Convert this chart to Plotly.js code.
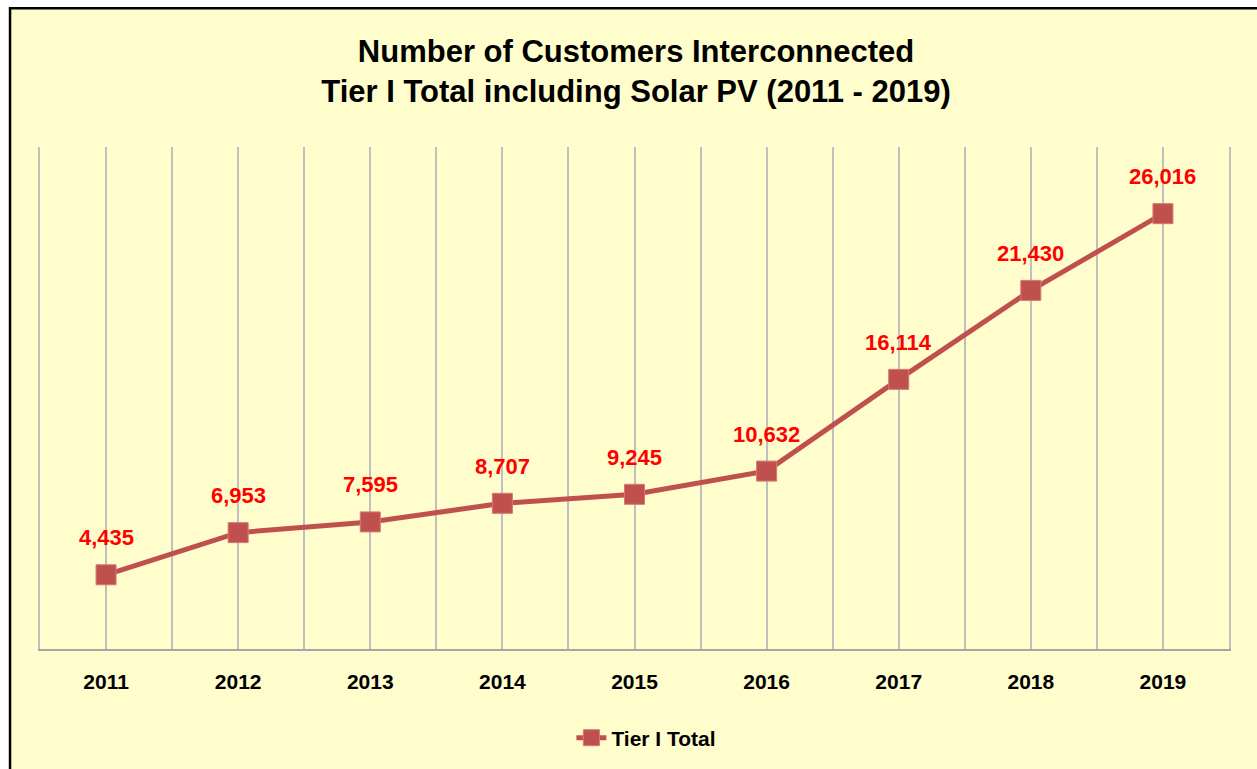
<!DOCTYPE html>
<html>
<head>
<meta charset="utf-8">
<script src="https://cdn.plot.ly/plotly-3.0.1.min.js"></script>
<style>html,body{margin:0;padding:0;background:#fff;}#chart{width:1257px;height:769px;}</style>
</head>
<body>
<div id="chart"></div>
<script>
const years = ['2011','2012','2013','2014','2015','2016','2017','2018','2019'];
const tierITotal = [4435, 6953, 7595, 8707, 9245, 10632, 16114, 21430, 26016];
const seriesName = 'Tier I Total';
const chartTitle = 'Number of Customers Interconnected<br>Tier I Total including Solar PV (2011 - 2019)';

const FONT = 'Liberation Sans Narrow, Arial Narrow, Liberation Sans, Arial, sans-serif';
const idx = years.map((_, i) => i);

const tickvals = [];
const ticktext = [];
for (let i = 0; i < years.length; i++) {
  tickvals.push(i - 0.5); ticktext.push('');
  tickvals.push(i); ticktext.push(years[i]);
}
tickvals.push(years.length - 0.5); ticktext.push('');

const trace = {
  x: idx,
  y: tierITotal,
  name: seriesName,
  type: 'scatter',
  mode: 'lines+markers',
  line: {color: '#C0504D', width: 5},
  marker: {symbol: 'square', size: 20, color: '#C0504D', line: {color: '#D27A78', width: 1}},
  showlegend: true,
  hoverinfo: 'skip'
};

const annotations = idx.map(i => ({
  x: i, y: tierITotal[i], xref: 'x', yref: 'y',
  text: tierITotal[i].toLocaleString('en-US'),
  showarrow: false, yshift: 37,
  font: {family: FONT, size: 22, color: '#FF0000', weight: 'bold'}
}));

const layout = {
  width: 1257, height: 769,
  paper_bgcolor: '#FFFFFF',
  plot_bgcolor: 'rgba(0,0,0,0)',
  margin: {l: 40, r: 28, t: 147, b: 119},
  title: {
    text: chartTitle,
    font: {family: FONT, size: 31, color: '#000000', weight: 'bold'},
    x: 0.506, xref: 'container', xanchor: 'center',
    yref: 'container', y: 0.92, yanchor: 'middle'
  },
  xaxis: {
    range: [-0.5, years.length - 0.5],
    tickmode: 'array', tickvals: tickvals, ticktext: ticktext,
    showgrid: true, gridcolor: '#BFBFBF', gridwidth: 2,
    showline: true, linecolor: '#A6A6A6', linewidth: 2,
    zeroline: false, ticks: '',
    ticklabelstandoff: 13,
    tickfont: {family: FONT, size: 21, color: '#000000', weight: 'bold'},
    fixedrange: true
  },
  yaxis: {
    range: [0, 30000],
    showgrid: false, zeroline: false,
    showline: true, mirror: true, linecolor: '#BFBFBF', linewidth: 2,
    showticklabels: false, ticks: '', fixedrange: true
  },
  showlegend: true,
  legend: {
    orientation: 'h', x: 0.51, xanchor: 'center', y: -0.175, yanchor: 'middle',
    bgcolor: 'rgba(0,0,0,0)',
    font: {family: FONT, size: 21, color: '#000000', weight: 'bold'}
  },
  annotations: annotations,
  shapes: [{
    type: 'rect', xref: 'paper', yref: 'paper', layer: 'below',
    x0: -0.0252, x1: 1.2, y0: -0.5, y1: 1.2763,
    fillcolor: '#FFFDCC', line: {color: '#000000', width: 2.5}
  }]
};

Plotly.newPlot('chart', [trace], layout, {displayModeBar: false, staticPlot: true});
</script>
</body>
</html>
